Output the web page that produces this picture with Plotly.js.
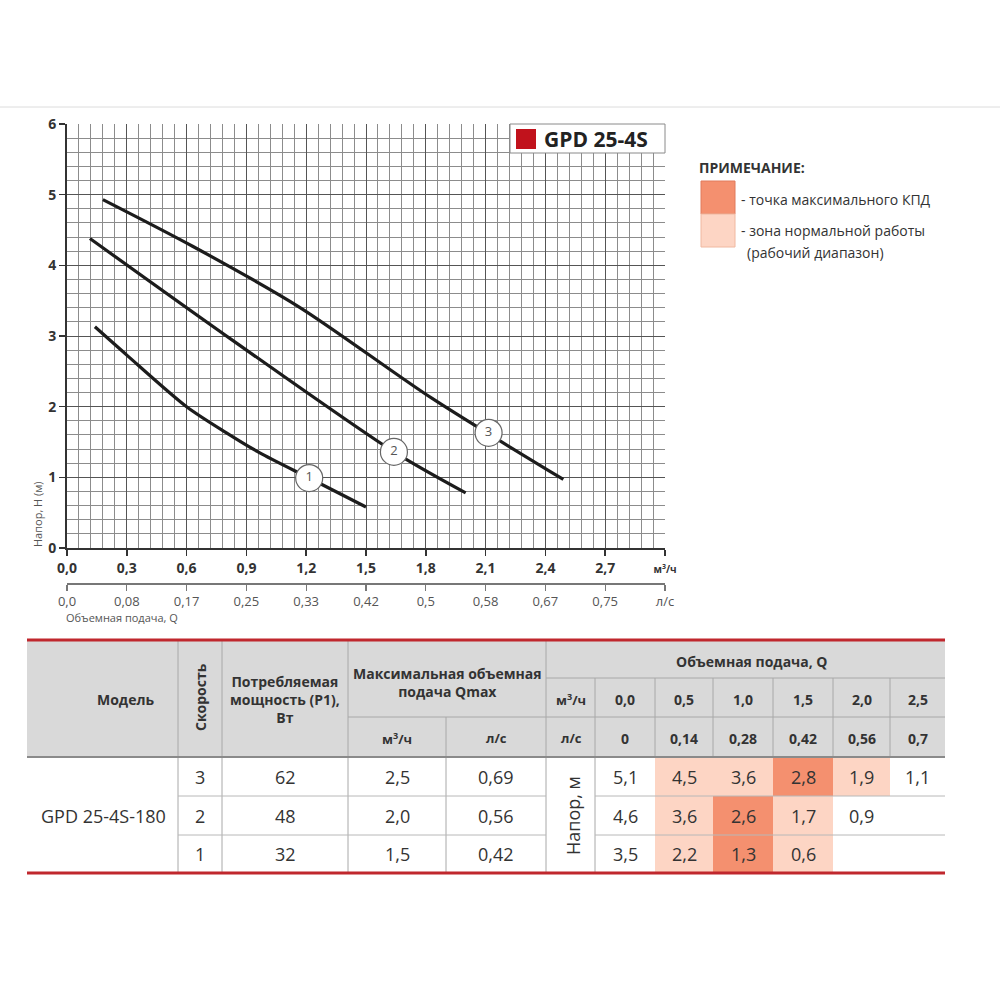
<!DOCTYPE html>
<html><head><meta charset="utf-8">
<script src="https://cdn.plot.ly/plotly-3.0.1.min.js"></script>
<style>body{margin:0;background:#fff}#chart{width:1000px;height:1000px}</style>
</head><body><div id="chart"></div>
<script>
// ---------- chart data ----------
const curve1Q = [0.14, 0.30, 0.60, 0.80, 0.965, 1.215, 1.50];
const curve1H = [3.13, 2.73, 2.00, 1.63, 1.35, 0.99, 0.58];
const curve2Q = [0.115, 0.815, 1.64, 2.0];
const curve2H = [4.38, 2.97, 1.36, 0.78];
const curve3Q = [0.18, 0.63, 1.165, 1.83, 2.49];
const curve3H = [4.93, 4.27, 3.41, 2.12, 0.97];
const labelQ = [1.215, 1.64, 2.115];
const labelH = [0.99, 1.36, 1.63];
const labelText = ['1', '2', '3'];
const xTickVals = [0, 0.3, 0.6, 0.9, 1.2, 1.5, 1.8, 2.1, 2.4, 2.7, 3.0];
const xTickText = ['0,0', '0,3', '0,6', '0,9', '1,2', '1,5', '1,8', '2,1', '2,4', '2,7', '<span style="font-size:10px">м<sup>3</sup>/ч</span>'];
const lsTickText = ['0,0', '0,08', '0,17', '0,25', '0,33', '0,42', '0,5', '0,58', '0,67', '0,75', 'л/с'];
const yTickVals = [0, 1, 2, 3, 4, 5, 6];
const seriesName = 'GPD 25-4S';

// ---------- table data ----------
const tblModel = 'GPD 25-4S-180';
const tblSpeed = [3, 2, 1];
const tblPower = [62, 48, 32];
const tblQmaxM3 = [2.5, 2.0, 1.5];
const tblQmaxLs = [0.69, 0.56, 0.42];
const tblQm3 = [0.0, 0.5, 1.0, 1.5, 2.0, 2.5];
const tblQls = [0, 0.14, 0.28, 0.42, 0.56, 0.7];
const tblHead = [[5.1, 4.5, 3.6, 2.8, 1.9, 1.1], [4.6, 3.6, 2.6, 1.7, 0.9, null], [3.5, 2.2, 1.3, 0.6, null, null]];
const tblZone = [[0, 1, 1, 2, 1, 0], [0, 1, 2, 1, 0, 0], [0, 1, 2, 1, 0, 0]];

// ---------- layout helpers (pixel -> paper) ----------
const FONT = 'Open Sans, Noto Sans, sans-serif';
const X = v => v / 1000, Y = v => 1 - v / 1000;
const shapes = [], annotations = [];
function rect(x0, y0, x1, y1, fill, lc, lw) {
  shapes.push({type: 'rect', xref: 'paper', yref: 'paper', x0: X(x0), x1: X(x1), y0: Y(y1), y1: Y(y0),
    fillcolor: fill, line: {color: lc || fill, width: lw || 0}, layer: 'above'});
}
function seg(x0, y0, x1, y1, color, w) {
  shapes.push({type: 'line', xref: 'paper', yref: 'paper', x0: X(x0), x1: X(x1), y0: Y(y0), y1: Y(y1),
    line: {color: color, width: w}, layer: 'above'});
}
function txt(x, y, s, size, o) {
  o = o || {};
  annotations.push({xref: 'paper', yref: 'paper', x: X(x), y: Y(y), text: s, showarrow: false,
    xanchor: o.xa || 'center', yanchor: 'middle', textangle: o.angle || 0,
    font: {family: FONT, size: size, color: o.color || '#333'}});
}
const c1 = v => v.toFixed(1).replace('.', ',');
const c2 = v => v.toFixed(2).replace('.', ',');
const cs = v => String(v).replace('.', ',');

// top rule
seg(0, 107, 1000, 107, '#dcdcdc', 1);

// legend box
rect(510, 124, 665, 153, '#ffffff', '#8a8a8a', 1);
rect(516, 129, 536, 149, '#c1121c');
txt(542, 139, '<b>' + seriesName + '</b>', 21, {xa: 'left', color: '#222'});

// axis texts
txt(37, 514, 'Напор, Н (м)', 11, {angle: -90, color: '#555'});
txt(64, 617, 'Объемная подача, Q', 11, {xa: 'left', color: '#555'});

// note
txt(697, 167, '<b>ПРИМЕЧАНИЕ:</b>', 14, {xa: 'left', color: '#333'});
rect(701, 181, 735, 214, '#f4906f', '#e07b5c', 1);
rect(701, 214, 735, 247, '#fdd5c4', '#f0b8a0', 1);
txt(739, 199, '- точка максимального КПД', 14, {xa: 'left'});
txt(739, 231, '- зона нормальной работы', 14, {xa: 'left'});
txt(745, 252, '(рабочий диапазон)', 14, {xa: 'left'});

// ---------- table ----------
const colX = [27, 178, 222, 348, 446, 546, 595, 655, 713, 773, 833, 890, 945];
const rowY = [640, 678, 717, 757, 796, 835, 873];
const zoneColor = ['#ffffff', '#fdd5c4', '#f4906f'];
rect(colX[0], rowY[0], colX[12], rowY[3], '#d9d9d9');
for (let r = 0; r < 3; r++) for (let j = 0; j < 6; j++) {
  if (tblZone[r][j] > 0) rect(colX[6 + j], rowY[3 + r], colX[7 + j], rowY[4 + r], zoneColor[tblZone[r][j]]);
}
const gl = '#a8a8a8';
[178, 222, 348, 546].forEach(x => seg(x, 640, x, 873, gl, 1));
seg(446, 717, 446, 873, gl, 1);
seg(595, 678, 595, 873, gl, 1);
for (let j = 7; j < 12; j++) seg(colX[j], 678, colX[j], 757, gl, 1);
seg(546, 678, 945, 678, gl, 1);
seg(348, 717, 945, 717, gl, 1);
[796, 835].forEach(y => { seg(178, y, 546, y, '#b8b8b8', 1); seg(595, y, 945, y, '#b8b8b8', 1); });
seg(27, 757, 945, 757, '#8a8a8a', 2);
seg(27, 640, 945, 640, '#c0272d', 3);
seg(27, 873, 945, 873, '#c0272d', 3);

// header text
const hb = s => '<b>' + s + '</b>';
txt(125, 699, hb('Модель'), 14);
txt(200, 697, hb('Скорость'), 14, {angle: -90});
txt(285, 699, hb('Потребляемая<br>мощность (P1),<br>Вт'), 14);
txt(447, 682, hb('Максимальная объемная<br>подача Qmax'), 14);
txt(397, 738, hb('м<sup>3</sup>/ч'), 13);
txt(496, 738, hb('л/с'), 13);
txt(752, 661, hb('Объемная подача, Q'), 14);
txt(571, 699, hb('м<sup>3</sup>/ч'), 13);
txt(571, 738, hb('л/с'), 13);
for (let j = 0; j < 6; j++) {
  const cx = (colX[6 + j] + colX[7 + j]) / 2;
  txt(cx, 699, hb(c1(tblQm3[j])), 14);
  txt(cx, 738, hb(cs(tblQls[j])), 14);
}
// data text
txt(103, 816, tblModel, 18);
txt(573, 816, 'Напор, м', 18, {angle: -90});
for (let r = 0; r < 3; r++) {
  const cy = (rowY[3 + r] + rowY[4 + r]) / 2;
  txt(200, cy, String(tblSpeed[r]), 18);
  txt(285, cy, String(tblPower[r]), 18);
  txt(397, cy, c1(tblQmaxM3[r]), 18);
  txt(496, cy, c2(tblQmaxLs[r]), 18);
  for (let j = 0; j < 6; j++) {
    const v = tblHead[r][j];
    if (v !== null) txt((colX[6 + j] + colX[7 + j]) / 2, cy, c1(v), 18);
  }
}

// ---------- traces ----------
const lineStyle = {color: '#1c1c1c', width: 3.2, shape: 'spline', smoothing: 0.8};
const traces = [
  {x: curve1Q, y: curve1H, mode: 'lines', line: lineStyle, hoverinfo: 'skip', showlegend: false},
  {x: curve2Q, y: curve2H, mode: 'lines', line: lineStyle, hoverinfo: 'skip', showlegend: false},
  {x: curve3Q, y: curve3H, mode: 'lines', line: lineStyle, hoverinfo: 'skip', showlegend: false},
  {x: labelQ, y: labelH, text: labelText, mode: 'markers+text', textposition: 'middle center',
    marker: {size: 27, color: '#ffffff', line: {color: '#666', width: 1.2}},
    textfont: {family: FONT, size: 13, color: '#555'}, hoverinfo: 'skip', showlegend: false},
  {x: [0], y: [0], xaxis: 'x2', yaxis: 'y', mode: 'markers', marker: {opacity: 0}, hoverinfo: 'skip', showlegend: false}
];

const layout = {
  width: 1000, height: 1000,
  margin: {l: 0, r: 0, t: 0, b: 0},
  paper_bgcolor: '#ffffff', plot_bgcolor: '#ffffff',
  showlegend: false,
  xaxis: {domain: [0.067, 0.665], range: [0, 3], tickvals: xTickVals, ticktext: xTickText,
    ticks: 'outside', ticklen: 6, tickwidth: 1.5, tickcolor: '#333',
    showline: true, linecolor: '#333', linewidth: 2,
    showgrid: true, gridcolor: '#555', gridwidth: 1, zeroline: false,
    minor: {dtick: 0.06, showgrid: true, gridcolor: '#8c8c8c', gridwidth: 1, ticks: ''},
    tickfont: {family: FONT, size: 14, color: '#333', weight: 'bold'}, fixedrange: true},
  xaxis2: {overlaying: 'x', anchor: 'free', position: 0.417, range: [0, 3], domain: [0.067, 0.665],
    tickvals: xTickVals, ticktext: lsTickText, ticks: 'outside', ticklen: 6, tickwidth: 1.2, tickcolor: '#777',
    showline: true, linecolor: '#777', linewidth: 1.5, showgrid: false, zeroline: false,
    tickfont: {family: FONT, size: 13, color: '#555'}, fixedrange: true},
  yaxis: {domain: [0.452, 0.876], range: [0, 6], tickvals: yTickVals,
    ticks: 'outside', ticklen: 6, tickwidth: 1.5, tickcolor: '#333',
    showline: true, linecolor: '#333', linewidth: 2,
    showgrid: true, gridcolor: '#555', gridwidth: 1, zeroline: false,
    minor: {dtick: 0.2, showgrid: true, gridcolor: '#8c8c8c', gridwidth: 1, ticks: ''},
    tickfont: {family: FONT, size: 14, color: '#333', weight: 'bold'}, fixedrange: true},
  shapes: shapes,
  annotations: annotations
};
Plotly.newPlot('chart', traces, layout, {staticPlot: true, displayModeBar: false});
</script>
</body></html>
